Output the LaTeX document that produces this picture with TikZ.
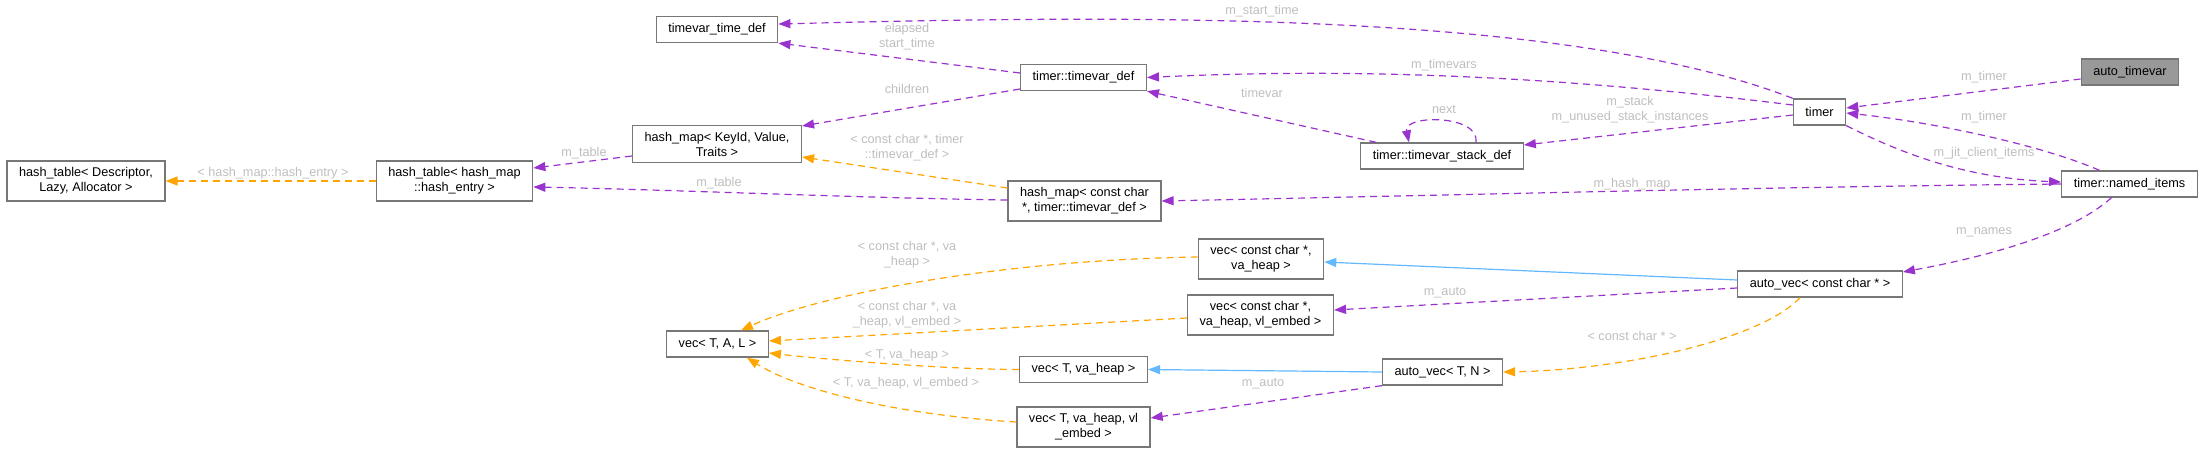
\documentclass[tikz,border=0pt]{standalone}
\usepackage{fontspec}
\setmainfont{Liberation Sans}
\usetikzlibrary{arrows.meta}
\definecolor{edgepurple}{HTML}{9A32CD}
\definecolor{edgeorange}{HTML}{FFA500}
\definecolor{edgeblue}{HTML}{63B8FF}
\definecolor{boxgray}{HTML}{777777}
\definecolor{lblgray}{HTML}{BEBEBE}
\definecolor{curgray}{HTML}{999999}
\begin{document}
\begin{tikzpicture}[x=1pt,y=-1pt,
    font=\fontsize{12.7}{15}\selectfont,
    cls/.style={draw=boxgray,line width=1.3pt,fill=white,inner xsep=12pt,inner ysep=6.5pt,minimum height=26pt,align=center},
    lbl/.style={text=lblgray,inner sep=0pt,align=center},
    use/.style={edgepurple,line width=1.2pt,dash pattern=on 7pt off 5pt,-{Triangle[length=12pt,width=9pt]}},
    tmpl/.style={use,edgeorange},
    inh/.style={edgeblue,line width=1.2pt,-{Triangle[length=12pt,width=9pt]}}]
    \useasboundingbox (0,0) rectangle (2204,452);

    % classes
    \node[cls] (htd) at (86,181) {hash\_table< Descriptor,\\Lazy, Allocator >};
    \node[cls] (hte) at (454.5,181) {hash\_table< hash\_map\\::hash\_entry >};
    \node[cls] (hmk) at (717,144) {hash\_map< KeyId, Value,\\Traits >};
    \node[cls] (ttd) at (717,29.5) {timevar\_time\_def};
    \node[cls] (tvd) at (1083.5,77.5) {timer::timevar\_def};
    \node[cls] (hmc) at (1084.5,201) {hash\_map< const char\\*, timer::timevar\_def >};
    \node[cls] (tsd) at (1442,156) {timer::timevar\_stack\_def};
    \node[cls] (timer) at (1819.5,112) {timer};
    \node[cls,fill=curgray] (atv) at (2130,72) {auto\_timevar};
    \node[cls] (tni) at (2129.5,184) {timer::named\_items};
    \node[cls] (avc) at (1820,284) {auto\_vec< const char * >};
    \node[cls] (vtal) at (717.5,344) {vec< T, A, L >};
    \node[cls] (vcv) at (1261,259) {vec< const char *,\\va\_heap >};
    \node[cls] (vcve) at (1260.5,315) {vec< const char *,\\va\_heap, vl\_embed >};
    \node[cls] (vtv) at (1083.5,369.5) {vec< T, va\_heap >};
    \node[cls] (vtve) at (1083.5,427) {vec< T, va\_heap, vl\\\_embed >};
    \node[cls] (avtn) at (1442.5,372) {auto\_vec< T, N >};

    % edges
    \draw[tmpl] (hte.west) -- (htd.east);
    \draw[use] ([yshift=-12pt]hmk.west) -- ([yshift=13pt]hte.east);
    \draw[use] ([yshift=1pt]hmc.west) .. controls +(-150,-2) and +(150,3) .. ([yshift=-6pt]hte.east);
    \draw[tmpl] ([yshift=13pt]hmc.west) -- ([yshift=-13pt]hmk.east);
    \draw[use] ([yshift=-11.5pt]tvd.west) -- ([yshift=18pt]hmk.east);
    \draw[use] ([yshift=4.5pt]tvd.west) -- (ttd.south east);
    \draw[use] (timer.north west) .. controls +(-234,-91) and +(322,-8) .. ([yshift=5.5pt]ttd.east);
    \draw[use] ([yshift=7pt]timer.west) .. controls +(-244,-30) and +(203,-9.5) .. (tvd.east);
    \draw[use] ([xshift=16pt]tsd.north west) -- (tvd.south east);
    \draw[use] ([xshift=34pt]tsd.north) .. controls +(4,-28) and +(-6,-28) .. ([xshift=-33pt]tsd.north);
    \draw[use] ([yshift=-3pt]timer.west) -- ([yshift=11pt]tsd.east);
    \draw[use] (tni.west) .. controls +(-300,3) and +(300,-6) .. (hmc.east);
    \draw[use] ([yshift=-7pt]atv.west) -- ([yshift=4pt]timer.east);
    \draw[use] ([xshift=-30pt]tni.north) .. controls +(-60,-26) and +(85,9) .. ([yshift=-1pt]timer.east);
    \draw[use] (timer.south east) .. controls +(50,25) and +(-100,-4) .. ([yshift=2pt]tni.west);
    \draw[use] ([xshift=-18pt]tni.south) .. controls +(-42,38) and +(76,-14) .. ([yshift=12pt]avc.east);
    \draw[inh] ([yshift=4pt]avc.west) -- ([yshift=-3pt]vcv.east);
    \draw[use] ([yshift=-4pt]avc.west) -- ([yshift=5pt]vcve.east);
    \draw[tmpl] ([xshift=-20pt]avc.south) .. controls +(-40,43) and +(116,-2) .. (avtn.east);
    \draw[inh] (avtn.west) -- (vtv.east);
    \draw[use] (avtn.south west) -- ([yshift=9pt]vtve.east);
    \draw[tmpl] ([yshift=2pt]vcv.west) .. controls +(-197,3) and +(78,-36) .. ([xshift=-28pt]vtal.north east);
    \draw[tmpl] ([yshift=-3pt]vcve.west) -- ([yshift=3pt]vtal.east);
    \draw[tmpl] (vtv.west) .. controls +(-69,0) and +(61,7) .. ([yshift=-9pt]vtal.east);
    \draw[tmpl] ([yshift=5pt]vtve.west) .. controls +(-116,-7) and +(52,33) .. ([xshift=-22pt]vtal.south east);

    % edge labels
    \node[lbl] (l1) at (273,173) {< hash\_map::hash\_entry >};
    \node[lbl] (l2) at (584,153) {m\_table};
    \node[lbl] (l3) at (719,183) {m\_table};
    \node[lbl] (l4) at (907,148) {< const char *, timer\\::timevar\_def >};
    \node[lbl] (l5) at (907,89) {children};
    \node[lbl] (l6) at (907,37) {elapsed\\start\_time};
    \node[lbl] (l7) at (1262,11) {m\_start\_time};
    \node[lbl] (l8) at (1444,65) {m\_timevars};
    \node[lbl] (l9) at (1262,93) {timevar};
    \node[lbl] (l10) at (1444,109) {next};
    \node[lbl] (l11) at (1630,110) {m\_stack\\m\_unused\_stack\_instances};
    \node[lbl] (l12) at (1632,184) {m\_hash\_map};
    \node[lbl] (l13) at (1984,77) {m\_timer};
    \node[lbl] (l14) at (1984,117) {m\_timer};
    \node[lbl] (l15) at (1984,153) {m\_jit\_client\_items};
    \node[lbl] (l16) at (1984,232) {m\_names};
    \node[lbl] (l17) at (1445,293) {m\_auto};
    \node[lbl] (l18) at (1632,336) {< const char * >};
    \node[lbl] (l19) at (907,255) {< const char *, va\\\_heap >};
    \node[lbl] (l20) at (907,315) {< const char *, va\\\_heap, vl\_embed >};
    \node[lbl] (l21) at (907,355) {< T, va\_heap >};
    \node[lbl] (l22) at (906,383) {< T, va\_heap, vl\_embed >};
    \node[lbl] (l23) at (1263,384) {m\_auto};
\end{tikzpicture}
\end{document}
